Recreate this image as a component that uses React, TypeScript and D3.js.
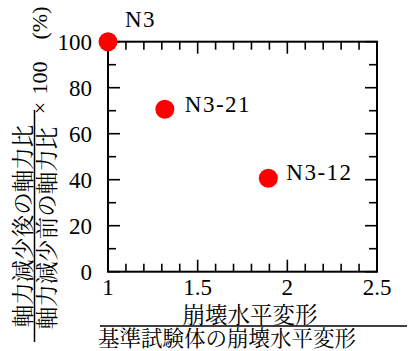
import React from "react";
import * as d3 from "d3";

// specimens: collapse horizontal deformation ratio vs. axial force ratio (%)
const names = ["N3", "N3-21", "N3-12"];
const deformRatio = [1.0, 1.317, 1.894];
const axialRatio = [100, 70.6, 40.6];

const xTickLabels = ["1", "1.5", "2", "2.5"];
const yTickLabels = ["0", "20", "40", "60", "80", "100"];

const yNumerator = "軸力減少後の軸力比";
const yDenominator = "軸力減少前の軸力比";
const ySuffixParts = ["×", "100", "(%)"];
const xNumerator = "崩壊水平変形";
const xDenominator = "基準試験体の崩壊水平変形";

const App = () => {
  const width = 408;
  const height = 351;
  const left = 108;
  const right = 377;
  const top = 41.7;
  const bottom = 271.7;

  const x = d3.scaleLinear().domain([1, 2.5]).range([left, right]);
  const y = d3.scaleLinear().domain([0, 100]).range([bottom, top]);

  // minor ticks every 0.1 / 10, major every 0.5 / 20
  const xMinor = d3.range(1, 2.5001, 0.1);
  const yMinor = d3.range(0, 100.001, 10);

  // where each point label sits relative to its marker
  const labelOffset = [
    [17, -15],
    [20, 3],
    [18, 2],
  ];
  // centres (along the rotated axis) of the "×100 (%)" pieces
  const suffixY = [108, 78, 23];

  return (
    <svg
      width={width}
      height={height}
      style={{ position: "absolute", left: 0, top: 0, background: "#fff" }}
    >
      {/* frame */}
      <rect
        x={left}
        y={top}
        width={right - left}
        height={bottom - top}
        fill="none"
        stroke="black"
        strokeWidth={2}
      />

      {/* x ticks, bottom and top, inward */}
      {xMinor.map((t, i) => {
        const major = Math.abs(t * 2 - Math.round(t * 2)) < 1e-6;
        const len = major ? 12 : 8;
        return (
          <g key={"x" + i}>
            <line x1={x(t)} x2={x(t)} y1={bottom} y2={bottom - len} stroke="black" strokeWidth={1.6} />
            <line x1={x(t)} x2={x(t)} y1={top} y2={top + len} stroke="black" strokeWidth={1.6} />
          </g>
        );
      })}

      {/* y ticks, left and right, inward */}
      {yMinor.map((t, i) => {
        const major = Math.round(t) % 20 === 0;
        const len = major ? 12 : 8;
        return (
          <g key={"y" + i}>
            <line x1={left} x2={left + len} y1={y(t)} y2={y(t)} stroke="black" strokeWidth={1.6} />
            <line x1={right} x2={right - len} y1={y(t)} y2={y(t)} stroke="black" strokeWidth={1.6} />
          </g>
        );
      })}

      <g fontFamily="Liberation Serif" fontSize={23}>
        {/* tick labels */}
        {xTickLabels.map((t) => (
          <text key={t} x={x(+t)} y={bottom + 23} textAnchor="middle">
            {t}
          </text>
        ))}
        {yTickLabels.map((t) => (
          <text key={t} x={left - 16} y={y(+t)} dy="0.34em" textAnchor="end">
            {t}
          </text>
        ))}

        {/* points */}
        {names.map((n, i) => (
          <g key={n}>
            <circle cx={x(deformRatio[i])} cy={y(axialRatio[i])} r={9.5} fill="#ff0000" />
            <text
              x={x(deformRatio[i]) + labelOffset[i][0]}
              y={y(axialRatio[i]) + labelOffset[i][1]}
              letterSpacing={1.5}
            >
              {n}
            </text>
          </g>
        ))}

        {/* "×100 (%)" beside the fraction */}
        {ySuffixParts.map((s, i) => (
          <g key={s} transform={`translate(47,${suffixY[i]}) rotate(-90)`}>
            <text textAnchor="middle" fontSize={22}>
              {s}
            </text>
          </g>
        ))}
      </g>

      <g fontFamily="Noto Serif CJK JP" fontSize={22.5}>
        {/* y axis title as a fraction */}
        <g transform="translate(23,226) rotate(-90)">
          <text textAnchor="middle" dy="0.36em">
            {yNumerator}
          </text>
        </g>
        <g transform="translate(46.5,228) rotate(-90)">
          <text textAnchor="middle" dy="0.36em">
            {yDenominator}
          </text>
        </g>

        {/* x axis title as a fraction */}
        <text x={250} y={323} textAnchor="middle">
          {xNumerator}
        </text>
        <text x={98} y={346} fontSize={21.5}>
          {xDenominator}
        </text>
      </g>
      <line x1={34.5} x2={34.5} y1={110} y2={342} stroke="black" strokeWidth={1.5} />
      <line x1={100} x2={407} y1={326} y2={326} stroke="black" strokeWidth={1.5} />
    </svg>
  );
};

export default App;
